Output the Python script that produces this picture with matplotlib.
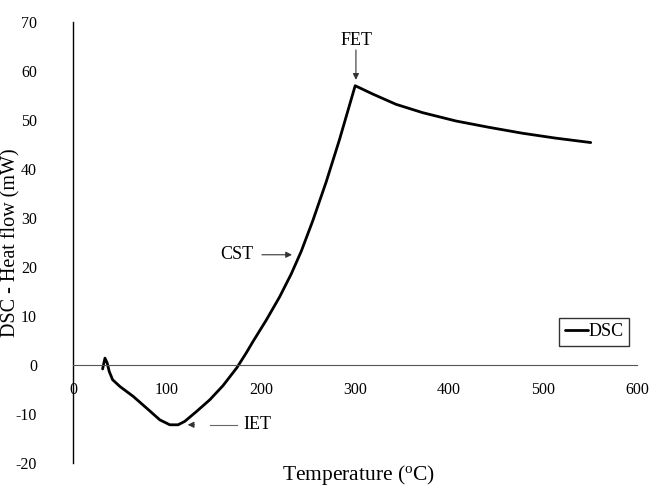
#!/usr/bin/env python3
"""DSC heat-flow curve with IET / CST / FET markers."""

import matplotlib
matplotlib.use("Agg")
import matplotlib.pyplot as plt

temperature = [31.5, 34.0, 36.4, 38.5, 42.1, 50, 64, 78.3, 92.4, 103, 111.8,
               118.9, 131.3, 145.5, 159.6, 174.5, 184.4, 191.5, 205.7, 219.8,
               232.2, 242.8, 255.2, 269.4, 283.5, 300.2, 318.9, 343.7, 372,
               407.4, 442.8, 478.2, 513.6, 550.8]
heat_flow = [-0.8, 1.4, 0.4, -1.3, -3.0, -4.4, -6.4, -8.8, -11.2, -12.2, -12.2,
             -11.5, -9.5, -7.1, -4.2, -0.5, 2.5, 4.8, 9.2, 13.9, 18.6, 23.2,
             29.5, 37.4, 46.0, 57.0, 55.3, 53.2, 51.5, 49.8, 48.5, 47.3, 46.3,
             45.4]

x_ticks = [0, 100, 200, 300, 400, 500, 600]
y_ticks = [-20, -10, 0, 10, 20, 30, 40, 50, 60, 70]

plt.rcParams["font.family"] = ["Liberation Serif", "DejaVu Serif"]
plt.rcParams["axes.unicode_minus"] = False
plt.rcParams["mathtext.fontset"] = "custom"
plt.rcParams["mathtext.rm"] = "Liberation Serif"

fig = plt.figure(figsize=(6.56, 4.86), dpi=100)
ax = fig.add_axes([0.1113, 0.0473, 0.8597, 0.9074])

ax.plot(temperature, heat_flow, color="black", linewidth=2.0, label="DSC",
        solid_capstyle="round", solid_joinstyle="round")

ax.set_xlim(0, 600)
ax.set_ylim(-20, 70)
ax.set_xticks(x_ticks)
ax.set_yticks(y_ticks)

ax.spines["top"].set_visible(False)
ax.spines["right"].set_visible(False)
ax.spines["bottom"].set_position(("data", 0))
ax.spines["bottom"].set_color("#555555")
ax.spines["bottom"].set_linewidth(0.8)
ax.spines["left"].set_linewidth(1.0)

ax.tick_params(axis="x", length=0, pad=12, labelsize=11.5)
ax.tick_params(axis="y", length=0, pad=26, labelsize=11.5)

ax.set_ylabel("DSC - Heat flow (mW)", fontsize=14.5)
ax.yaxis.set_label_coords(-0.093, 0.5)
fig.text(0.547, 0.022, "Temperature ($\\mathrm{^{o}}$C)", ha="center",
         va="center", fontsize=15.5)

arrow = dict(arrowstyle="-|>", color="#333333", lw=0.8, mutation_scale=9,
             shrinkA=0, shrinkB=0)

# FET
ax.text(302, 66.3, "FET", ha="center", va="center", fontsize=13)
ax.annotate("", xy=(301, 58.2), xytext=(301, 64.3), arrowprops=arrow)
# CST
ax.text(174, 22.5, "CST", ha="center", va="center", fontsize=13)
ax.annotate("", xy=(233, 22.5), xytext=(201, 22.5), arrowprops=arrow)
# IET
ax.text(196, -12.2, "IET", ha="center", va="center", fontsize=13)
ax.plot([146, 174], [-12.2, -12.2], color="#666666", linewidth=0.8)
ax.annotate("", xy=(122, -12.2), xytext=(129, -12.2), arrowprops=arrow)

leg = ax.legend(loc="upper left", bbox_to_anchor=(0.862, 0.329), frameon=True,
                fancybox=False, fontsize=13, handlelength=1.3,
                handletextpad=0.0, borderpad=0.3, borderaxespad=0)
leg.get_frame().set_edgecolor("black")
leg.get_frame().set_linewidth(1.0)

fig.savefig("out.png", dpi=100, facecolor="white")
